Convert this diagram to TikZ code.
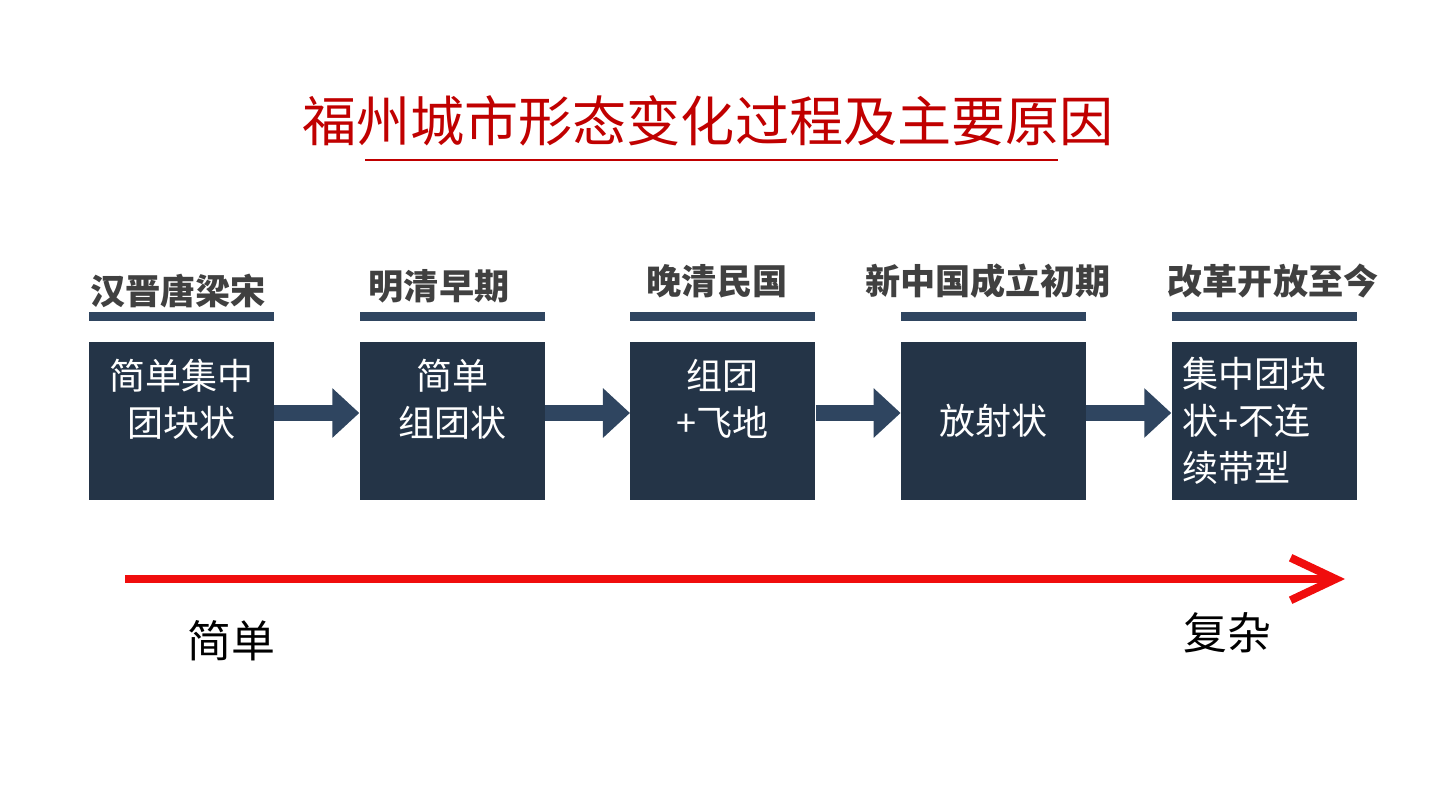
\documentclass[tikz,border=0pt]{standalone}
\usepackage{fontspec}
\setmainfont{Noto Sans CJK SC}
\usepackage{xcolor}
\usetikzlibrary{arrows.meta, positioning}
\definecolor{fzred}{HTML}{C00000}
\definecolor{fznavy}{HTML}{243447}
\definecolor{fzblue}{HTML}{2F4560}
\definecolor{fzgray}{HTML}{404040}
\definecolor{fzarrow}{HTML}{F00D0D}

\begin{document}
\begin{tikzpicture}[
  x=0.02cm, y=-0.02cm,
  stage/.style={rectangle, fill=fznavy, text=white, minimum width=3.7cm,
    minimum height=3.16cm, inner sep=0pt, align=center,
    font=\fontsize{20.5}{26.8}\selectfont},
  era/.style={font=\fontsize{20}{24}\selectfont\bfseries, text=fzgray, inner sep=0pt},
  bar/.style={rectangle, fill=fzblue, minimum width=3.7cm, minimum height=0.18cm, inner sep=0pt},
  flow/.style={-{Triangle[length=0.54cm, width=0.96cm]}, line width=0.32cm, fzblue},
  node distance=1.7cm,
]
  \useasboundingbox (0,0) rectangle (1440,810);

  % title
  \node[text=fzred, font=\fontsize{30.8}{36}\selectfont] (title) at (708,121) {福州城市形态变化过程及主要原因};
  \coordinate (ulL) at (365,160);
  \coordinate (ulR) at (1058,160);
  \draw[fzred, line width=1.1pt] (ulL) -- (ulR);

  % stages
  \node[stage] (s1) at (181.5,421) {简单集中\\团块状\\\mbox{}};
  \node[stage, right=of s1] (s2) {简单\\组团状\\\mbox{}};
  \node[stage, right=of s2] (s3) {组团\\+飞地\\\mbox{}};
  \node[stage, right=of s3] (s4) {放射状};
  \node[stage, right=of s4, text width=3.26cm, inner xsep=0.22cm, align=left] (s5) {集中团块\\状+不连\\续带型};

  % bars and periods
  \foreach \i in {1,...,5}
    \node[bar, above=0.4cm of s\i] (b\i) {};
  \node[era] (e1) at (178,291) {汉晋唐梁宋};
  \node[era] (e2) at (439,286) {明清早期};
  \node[era] (e3) at (717,281) {晚清民国};
  \node[era] (e4) at (988,281) {新中国成立初期};
  \node[era] (e5) at (1273,281) {改革开放至今};

  \foreach \a/\b in {s1/s2, s2/s3, s3/s4, s4/s5}
    \draw[flow] ([yshift=0.16cm]\a.east) -- ([yshift=0.16cm]\b.west);

  % trend
  \coordinate (lo) at (125,579);
  \coordinate (hi) at (1345,579);
  \draw[fzarrow, line width=0.16cm, -{Straight Barb[length=0.9cm, width=0.85cm]}] (lo) -- (hi);
  \node[font=\fontsize{25}{30}\selectfont] (simple) at (231,641) {简单};
  \node[font=\fontsize{25}{30}\selectfont] (complex) at (1227,633) {复杂};
\end{tikzpicture}
\end{document}
